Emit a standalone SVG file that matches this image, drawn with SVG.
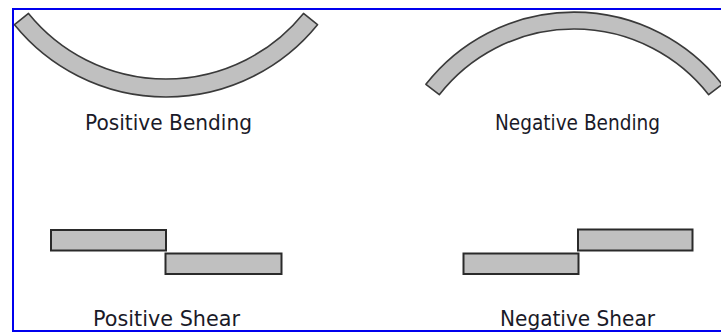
<svg xmlns="http://www.w3.org/2000/svg" width="721" height="333" viewBox="0 0 721 333">
  <style>
    .beam { fill: #c0c0c0; stroke: #3a3a3a; stroke-width: 1.6; stroke-linejoin: round; }
    .bar { fill: #c0c0c0; stroke: #2a2a2a; stroke-width: 2; }
    .lbl { font-family: "DejaVu Sans", Verdana, sans-serif; font-size: 21px; fill: #1a1a28; }
  </style>
  <rect x="0" y="0" width="721" height="333" fill="#ffffff"/>
  <rect id="border" x="13" y="9" width="720" height="322" fill="none" stroke="#0000ee" stroke-width="2"/>

  <g id="positive-bending">
    <path class="beam" d="M28.5,13.4 A177,177 0 0 0 303.5,13.4 L317.5,24.7 A195,195 0 0 1 14.5,24.7 Z"/>
    <text class="lbl" x="85" y="130" textLength="167" lengthAdjust="spacingAndGlyphs">Positive Bending</text>
  </g>

  <g id="negative-bending">
    <path class="beam" d="M425.9,84.3 A188,188 0 0 1 722.1,84.3 L708.7,94.7 A171,171 0 0 0 439.3,94.7 Z"/>
    <text class="lbl" x="495" y="130" textLength="165" lengthAdjust="spacingAndGlyphs">Negative Bending</text>
  </g>

  <g id="positive-shear">
    <rect class="bar" x="51" y="230" width="115" height="20.5"/>
    <rect class="bar" x="165.5" y="253.5" width="116" height="20.5"/>
    <text class="lbl" x="93" y="325.5" textLength="147" lengthAdjust="spacingAndGlyphs">Positive Shear</text>
  </g>

  <g id="negative-shear">
    <rect class="bar" x="578" y="229.5" width="114.5" height="21"/>
    <rect class="bar" x="463.5" y="253.5" width="115" height="20.5"/>
    <text class="lbl" x="500" y="325.5" textLength="155" lengthAdjust="spacingAndGlyphs">Negative Shear</text>
  </g>

  <g id="connectors"/>
</svg>
